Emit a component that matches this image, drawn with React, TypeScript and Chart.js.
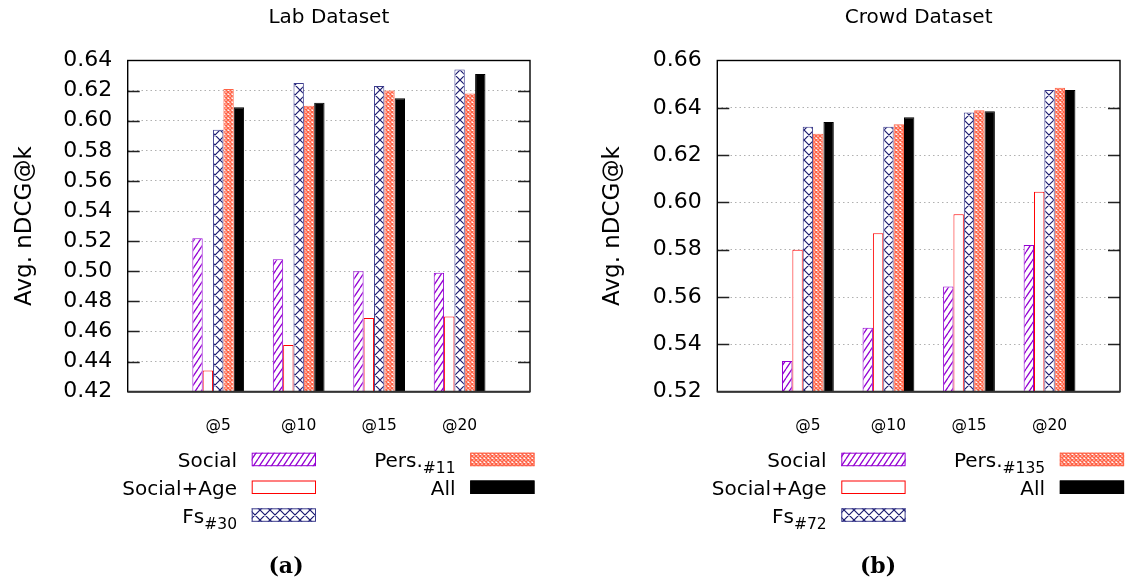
import React, { useEffect, useRef } from 'react';
import { Chart, registerables } from 'chart.js';

Chart.register(...registerables);

// ---------- data ----------
const CATEGORIES = ['@5', '@10', '@15', '@20'];
const SERIES_NAMES = ['Social', 'Social+Age', 'Fs', 'Pers.', 'All'];
const LAB_SUBSCRIPTS = ['', '', '#30', '#11', ''];
const CROWD_SUBSCRIPTS = ['', '', '#72', '#135', ''];

const LAB_SOCIAL = [0.522, 0.508, 0.5, 0.499];
const LAB_SOCIAL_AGE = [0.434, 0.451, 0.469, 0.47];
const LAB_FS = [0.594, 0.625, 0.623, 0.634];
const LAB_PERS = [0.621, 0.61, 0.62, 0.618];
const LAB_ALL = [0.609, 0.612, 0.615, 0.631];

const CROWD_SOCIAL = [0.533, 0.547, 0.5645, 0.582];
const CROWD_SOCIAL_AGE = [0.58, 0.587, 0.595, 0.6045];
const CROWD_FS = [0.632, 0.632, 0.638, 0.6475];
const CROWD_PERS = [0.629, 0.633, 0.639, 0.6485];
const CROWD_ALL = [0.634, 0.636, 0.6385, 0.6475];

const LAB_Y_TICKS = [0.42, 0.44, 0.46, 0.48, 0.5, 0.52, 0.54, 0.56, 0.58, 0.6, 0.62, 0.64];
const CROWD_Y_TICKS = [0.52, 0.54, 0.56, 0.58, 0.6, 0.62, 0.64, 0.66];

const FONT = '"DejaVu Sans", Verdana, sans-serif';

// ---------- patterns ----------
function hatchPattern(color: string): CanvasPattern | string {
  const c = document.createElement('canvas');
  c.width = 6; c.height = 9;
  const g = c.getContext('2d');
  if (!g) return color;
  g.fillStyle = '#fff'; g.fillRect(0, 0, 6, 9);
  g.strokeStyle = color; g.lineWidth = 1.3;
  g.beginPath();
  for (const dx of [-6, 0, 6]) { g.moveTo(dx, 9); g.lineTo(dx + 6, 0); }
  g.stroke();
  return g.createPattern(c, 'repeat') || color;
}
function crossPattern(color: string, size: number, lw: number): CanvasPattern | string {
  const c = document.createElement('canvas');
  c.width = size; c.height = size;
  const g = c.getContext('2d');
  if (!g) return color;
  g.fillStyle = '#fff'; g.fillRect(0, 0, size, size);
  g.strokeStyle = color; g.lineWidth = lw;
  g.beginPath();
  for (const dx of [-size, 0, size]) {
    g.moveTo(dx, 0); g.lineTo(dx + size, size);
    g.moveTo(dx, size); g.lineTo(dx + size, 0);
  }
  g.stroke();
  return g.createPattern(c, 'repeat') || color;
}

const PURPLE = '#9400d3';
const RED = '#ff0000';
const NAVY = '#191970';
const SALMON = '#ff6347';

type PanelProps = {
  left: number;
  title: string;
  caption: string;
  captionX: number;
  series: number[][];
  subs: string[];
  yTicks: number[];
  axisLeft: number;
  axisRight: number;
  yTitlePad: number;
};

const W = 564;
const H = 585;
const TOP = 60.5;
const BOTTOM = 391.7;

function Panel(p: PanelProps) {
  const ref = useRef<HTMLCanvasElement | null>(null);
  useEffect(() => {
    if (!ref.current) return;
    const fills = [hatchPattern(PURPLE), '#ffffff', crossPattern(NAVY, 10, 1.2), crossPattern(SALMON, 4, 1.5), '#000000'];
    const borders = [PURPLE, RED, '#3a3a8c', SALMON, '#000000'];
    const yTicks = p.yTicks;

    const panelPlugin = {
      id: 'panelDecor',
      afterDatasetsDraw(chart: any) {
        const { ctx, chartArea: a } = chart;
        const ys = chart.scales.y;
        ctx.save();
        ctx.strokeStyle = '#222';
        ctx.lineWidth = 1.3;
        for (let i = 1; i < yTicks.length - 1; i++) {
          const py = Math.round(ys.getPixelForValue(yTicks[i])) + 0.5;
          ctx.beginPath();
          ctx.moveTo(a.left, py); ctx.lineTo(a.left + 12, py);
          ctx.moveTo(a.right - 12, py); ctx.lineTo(a.right, py);
          ctx.stroke();
        }
        ctx.strokeStyle = '#000';
        ctx.lineWidth = 1.4;
        ctx.strokeRect(a.left, a.top, a.right - a.left, a.bottom - a.top);
        ctx.strokeStyle = '#333';
        ctx.lineWidth = 2;
        ctx.beginPath(); ctx.moveTo(a.left, a.bottom); ctx.lineTo(a.right, a.bottom); ctx.stroke();
        ctx.restore();
      },
      afterDraw(chart: any) {
        const { ctx, chartArea: a } = chart;
        ctx.save();
        // title
        ctx.fillStyle = '#000';
        ctx.font = `20px ${FONT}`;
        ctx.textAlign = 'center';
        ctx.textBaseline = 'middle';
        ctx.fillText(p.title, (a.left + a.right) / 2, 18);
        // legend
        const sw = 64.3, sh = 13.5;
        SERIES_NAMES.forEach((name, i) => {
          const col = i < 3 ? 0 : 1;
          const row = i < 3 ? i : i - 3;
          const sx = a.left + 124 + col * 218.5;
          const sy = 452.7 + row * 27.8;
          ctx.fillStyle = fills[i] as any;
          ctx.fillRect(sx, sy, sw, sh);
          ctx.strokeStyle = borders[i];
          ctx.lineWidth = 1;
          ctx.strokeRect(sx + 0.5, sy + 0.5, sw - 1, sh - 1);
          const tx = sx - 14.7;
          const base = sy + 14.3;
          ctx.fillStyle = '#000';
          ctx.textAlign = 'right';
          ctx.textBaseline = 'alphabetic';
          let subW = 0;
          const sub = p.subs[i];
          if (sub) {
            ctx.font = `15.5px ${FONT}`;
            subW = ctx.measureText(sub).width;
            ctx.fillText(sub, tx, base + 6);
          }
          ctx.font = `20px ${FONT}`;
          ctx.fillText(name, tx - subW, base);
        });
        // caption
        ctx.font = 'bold 22px "DejaVu Serif", "Liberation Serif", serif';
        ctx.textAlign = 'center';
        ctx.textBaseline = 'middle';
        ctx.fillStyle = '#000';
        ctx.fillText(p.caption, p.captionX, 567);
        ctx.restore();
      },
    };

    const chart = new Chart(ref.current, {
      type: 'bar',
      data: {
        datasets: SERIES_NAMES.map((name, si) => ({
          label: name + p.subs[si],
          data: CATEGORIES.map((_, i) => ({ x: i, y: p.series[si][i] })),
          backgroundColor: fills[si] as any,
          borderColor: borders[si],
          borderWidth: 1,
          borderSkipped: 'bottom',
          categoryPercentage: 0.643,
          barPercentage: 1,
        })),
      },
      options: {
        animation: false,
        responsive: false,
        maintainAspectRatio: false,
        devicePixelRatio: 1,
        layout: { padding: { left: 0, right: W - p.axisRight, top: TOP, bottom: 0 } },
        plugins: { legend: { display: false }, title: { display: false }, tooltip: { enabled: false } },
        scales: {
          x: {
            type: 'linear',
            min: -1.125,
            max: 3.875,
            offset: false,
            afterBuildTicks: (s: any) => { s.ticks = CATEGORIES.map((_, i) => ({ value: i })); },
            afterFit: (s: any) => { s.height = H - BOTTOM; },
            ticks: {
              callback: (v: any) => CATEGORIES[Math.round(Number(v))] ?? '',
              font: { family: FONT, size: 15.5 },
              color: '#000',
              padding: 25,
              autoSkip: false,
              maxRotation: 0,
            },
            grid: { display: false, drawTicks: false },
            border: { display: false },
          },
          y: {
            type: 'linear',
            min: yTicks[0],
            max: yTicks[yTicks.length - 1],
            beginAtZero: false,
            afterBuildTicks: (s: any) => { s.ticks = yTicks.map((v) => ({ value: v })); },
            afterFit: (s: any) => { s.width = p.axisLeft; },
            ticks: {
              callback: (v: any) => Number(v).toFixed(2),
              font: { family: FONT, size: 22 },
              color: '#000',
              padding: 15.5,
              autoSkip: false,
            },
            grid: {
              color: (c: any) => (c.index === 0 || c.index === yTicks.length - 1 ? 'rgba(0,0,0,0)' : '#b0b0b0'),
              lineWidth: 1,
              drawTicks: false,
            },
            border: { display: false, dash: [1.5, 3] },
            title: {
              display: true,
              text: 'Avg. nDCG@k',
              font: { family: FONT, size: 23 },
              color: '#000',
              padding: { top: p.yTitlePad, bottom: 0 },
            },
          },
        },
      } as any,
      plugins: [panelPlugin],
    });
    return () => chart.destroy();
  }, []);
  return (
    <canvas
      ref={ref}
      width={W}
      height={H}
      style={{ position: 'absolute', left: p.left, top: 0, width: W, height: H, display: 'block' }}
    />
  );
}

export default function App() {
  return (
    <div style={{ position: 'absolute', left: 0, top: 0, width: 1128, height: 585, background: '#fff', overflow: 'hidden' }}>
      <Panel
        left={0}
        title="Lab Dataset"
        caption="(a)"
        captionX={286}
        series={[LAB_SOCIAL, LAB_SOCIAL_AGE, LAB_FS, LAB_PERS, LAB_ALL]}
        subs={LAB_SUBSCRIPTS}
        yTicks={LAB_Y_TICKS}
        axisLeft={127.7}
        axisRight={530}
        yTitlePad={11}
      />
      <Panel
        left={564}
        title="Crowd Dataset"
        caption="(b)"
        captionX={314}
        series={[CROWD_SOCIAL, CROWD_SOCIAL_AGE, CROWD_FS, CROWD_PERS, CROWD_ALL]}
        subs={CROWD_SUBSCRIPTS}
        yTicks={CROWD_Y_TICKS}
        axisLeft={153.3}
        axisRight={556}
        yTitlePad={35}
      />
    </div>
  );
}
